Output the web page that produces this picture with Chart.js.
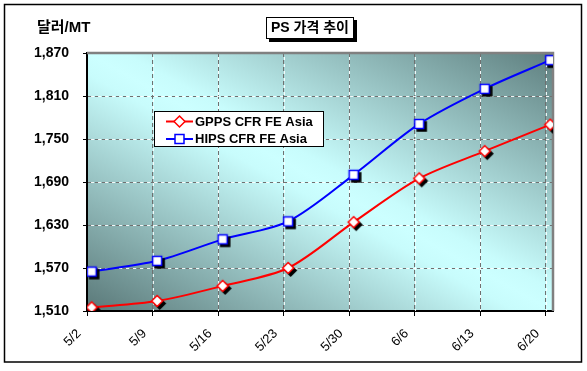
<!DOCTYPE html>
<html>
<head>
<meta charset="utf-8">
<script src="https://cdn.jsdelivr.net/npm/chart.js@4/dist/chart.umd.min.js"></script>
<style>
html,body{margin:0;padding:0;background:#fff;}
#wrap{width:587px;height:371px;position:relative;}
</style>
</head>
<body>
<div id="wrap"><canvas id="c" width="587" height="371"></canvas></div>
<script>
// ---- data ----
const dateLabels = ['5/2','5/9','5/16','5/23','5/30','6/6','6/13','6/20'];
const dayOffsets = [0, 7, 14, 21, 28, 35, 42, 49];
const gppsValues = [1515, 1524, 1545, 1570, 1634, 1695, 1733, 1770];
const hipsValues = [1565, 1580, 1610, 1635, 1700, 1771, 1820, 1860];
const seriesNames = ['GPPS CFR FE Asia', 'HIPS CFR FE Asia'];
const yMin = 1510, yMax = 1870, yStep = 60;
const titleText = 'PS 가격 추이';
const unitText = '달러/MT';

const FONT = '"Liberation Sans", Arial, "Noto Sans CJK KR", sans-serif';
const KFONT = '"Liberation Sans", "Noto Sans CJK KR", sans-serif';

function drawShape(g, shape, x, y, fill, stroke, lw) {
  g.beginPath();
  if (shape === 'square') {
    g.rect(x - 4.5, y - 4.5, 9, 9);
  } else {
    g.moveTo(x, y - 5.5); g.lineTo(x + 5.5, y); g.lineTo(x, y + 5.5); g.lineTo(x - 5.5, y); g.closePath();
  }
  g.fillStyle = fill; g.fill();
  if (stroke) { g.lineWidth = lw; g.strokeStyle = stroke; g.stroke(); }
}
function makeMarker(shape, stroke) {
  const c = document.createElement('canvas');
  c.width = 20; c.height = 20;
  const g = c.getContext('2d');
  drawShape(g, shape, 12.5, 12.5, '#000', '#000', 1.5);
  drawShape(g, shape, 10, 10, '#fff', stroke, 1.5);
  return c;
}
const diamondMarker = makeMarker('diamond', '#ff0000');
const squareMarker = makeMarker('square', '#0000ff');

const toPoints = (vals) => vals.map((v, i) => ({ x: dayOffsets[i] + 0.5, y: v }));

const bgPlugin = {
  id: 'bg',
  beforeDraw(chart) {
    const ctx = chart.ctx, a = chart.chartArea;
    ctx.save();
    ctx.fillStyle = '#fff';
    ctx.fillRect(0, 0, chart.width, chart.height);
    ctx.translate(a.left, a.top);
    ctx.scale(a.right - a.left, a.bottom - a.top);
    const gr = ctx.createLinearGradient(0, 1, 1, 0);
    gr.addColorStop(0, '#5a7878');
    gr.addColorStop(0.46, '#c8fcfc');
    gr.addColorStop(0.5, '#ccffff');
    gr.addColorStop(0.54, '#c8fcfc');
    gr.addColorStop(1, '#5e7e7e');
    ctx.fillStyle = gr;
    ctx.fillRect(0, 0, 1, 1);
    ctx.restore();
  },
  beforeDatasetsDraw(chart) {
    const ctx = chart.ctx, a = chart.chartArea;
    const xs = chart.scales.x, ys = chart.scales.y;
    ctx.save();
    ctx.strokeStyle = 'rgba(255,255,255,0.9)';
    ctx.lineWidth = 1;
    ctx.setLineDash([3, 4]);
    ctx.lineDashOffset = -4;
    ys.ticks.forEach(t => {
      if (t.value === yMin) return;
      const y = Math.round(ys.getPixelForValue(t.value)) + 0.5;
      ctx.beginPath(); ctx.moveTo(a.left, y); ctx.lineTo(a.right, y); ctx.stroke();
    });
    xs.ticks.forEach(t => {
      if (t.value === 0) return;
      const x = Math.round(xs.getPixelForValue(t.value)) + 0.5;
      ctx.beginPath(); ctx.moveTo(x, a.top); ctx.lineTo(x, a.bottom); ctx.stroke();
    });
    ctx.setLineDash([]);
    ctx.strokeStyle = '#808080';
    ctx.lineWidth = 2.5;
    ctx.beginPath();
    ctx.moveTo(a.left, a.top); ctx.lineTo(a.right, a.top); ctx.lineTo(a.right, a.bottom);
    ctx.stroke();
    ctx.restore();
  },
  afterDraw(chart) {
    const ctx = chart.ctx;
    ctx.save();
    // outer frame
    ctx.strokeStyle = '#000';
    ctx.lineWidth = 1.5;
    ctx.strokeRect(4.5, 4.5, 577, 357.5);
    // unit label
    ctx.fillStyle = '#000';
    ctx.font = 'bold 15px ' + KFONT;
    ctx.textBaseline = 'middle';
    ctx.textAlign = 'left';
    ctx.fillText(unitText, 37, 28);
    // title box
    ctx.fillStyle = '#000';
    ctx.fillRect(269, 20, 88, 22);
    ctx.fillStyle = '#fff';
    ctx.fillRect(266, 17, 88, 22);
    ctx.lineWidth = 1;
    ctx.strokeStyle = '#000';
    ctx.strokeRect(266.5, 17.5, 87, 21);
    ctx.fillStyle = '#000';
    ctx.textAlign = 'center';
    ctx.font = 'bold 14px ' + KFONT;
    ctx.fillText(titleText, 310, 28.5);
    // legend
    ctx.fillStyle = '#fff';
    ctx.fillRect(154, 111, 170, 36);
    ctx.strokeRect(154.5, 111.5, 169, 35);
    const rows = [
      { y: 121.5, color: '#ff0000', shape: 'diamond', name: seriesNames[0] },
      { y: 139, color: '#0000ff', shape: 'square', name: seriesNames[1] }
    ];
    ctx.textAlign = 'left';
    ctx.font = 'bold 13px ' + FONT;
    rows.forEach(r => {
      ctx.strokeStyle = r.color; ctx.lineWidth = 2;
      ctx.beginPath(); ctx.moveTo(166, r.y); ctx.lineTo(193, r.y); ctx.stroke();
      drawShape(ctx, r.shape, 179.5, r.y, '#fff', r.color, 1.5);
      ctx.fillStyle = '#000';
      ctx.fillText(r.name, 195, r.y + 0.5);
    });
    ctx.restore();
  }
};

new Chart(document.getElementById('c'), {
  type: 'line',
  data: {
    datasets: [
      {
        label: seriesNames[0],
        data: toPoints(gppsValues),
        borderColor: '#ff0000',
        borderWidth: 2,
        pointStyle: diamondMarker,
        tension: 0.3,
        fill: false
      },
      {
        label: seriesNames[1],
        data: toPoints(hipsValues),
        borderColor: '#0000ff',
        borderWidth: 2,
        pointStyle: squareMarker,
        tension: 0.3,
        fill: false
      }
    ]
  },
  options: {
    responsive: false,
    animation: false,
    devicePixelRatio: 1,
    layout: { padding: { left: 0, right: 34, top: 53, bottom: 0 } },
    plugins: { legend: { display: false }, tooltip: { enabled: false }, title: { display: false } },
    scales: {
      x: {
        type: 'linear',
        min: 0,
        max: 49.8,
        afterFit(s) { s.height = 60; },
        ticks: {
          stepSize: 7,
          includeBounds: false,
          autoSkip: false,
          minRotation: 45,
          maxRotation: 45,
          padding: 10,
          labelOffset: -8,
          color: '#000',
          font: { family: FONT, size: 13 },
          callback(v) { const i = dayOffsets.indexOf(v); return i >= 0 ? dateLabels[i] : ''; }
        },
        grid: { color: '#707070', lineWidth: 1, tickColor: '#000', tickLength: 5 },
        border: { color: '#000', width: 2, dash: [4, 3] }
      },
      y: {
        min: yMin,
        max: yMax,
        afterFit(s) { s.width = 87; },
        ticks: {
          stepSize: yStep,
          color: '#000',
          padding: 14,
          font: { family: FONT, size: 14, weight: 'bold' },
          callback(v) { return v.toLocaleString('en-US'); }
        },
        grid: { color: '#707070', lineWidth: 1, tickColor: '#000', tickLength: 4 },
        border: { color: '#000', width: 2, dash: [4, 3] }
      }
    }
  },
  plugins: [bgPlugin]
});
</script>
</body>
</html>
